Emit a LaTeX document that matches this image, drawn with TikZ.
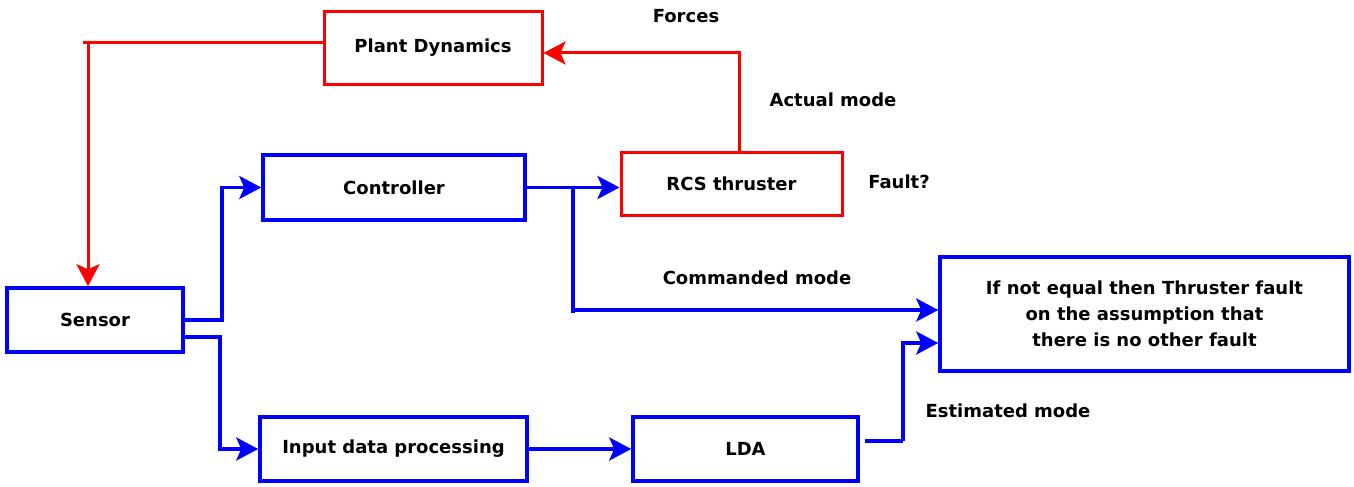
\documentclass[tikz,border=0pt]{standalone}
\usepackage{fontspec}
\setmainfont{DejaVu Sans}
\usetikzlibrary{arrows.meta}
\definecolor{bblue}{RGB}{0,0,255}
\definecolor{rred}{RGB}{255,0,0}
\begin{document}
\begin{tikzpicture}[x=1pt,y=-1pt,
  every node/.style={font=\fontsize{18}{26}\selectfont\bfseries, inner sep=0pt},
  bluebox/.style={draw=bblue, line width=3.5pt, align=center},
  redbox/.style={draw=rred, line width=3pt, align=center},
  bline/.style={draw=bblue, line width=3.5pt},
  rline/.style={draw=rred, line width=3pt},
  barrow/.style={bline, -{Stealth[length=22pt,width=23pt,inset=5pt]}},
  rarrow/.style={rline, -{Stealth[length=22pt,width=23pt,inset=5pt]}},
  lbl/.style={}
]
\useasboundingbox (0,0) rectangle (1354,487);
% boxes
\node[redbox, minimum width=218pt, minimum height=72pt] (plant) at (433,48) {Plant Dynamics};
\node[redbox, minimum width=221pt, minimum height=63pt] (rcs) at (731.5,184) {RCS thruster};
\node[bluebox, minimum width=262pt, minimum height=65pt] (ctrl) at (394,187.5) {Controller};
\node[bluebox, minimum width=176pt, minimum height=64pt] (sensor) at (95,320) {Sensor};
\node[bluebox, minimum width=267pt, minimum height=64pt] (inp) at (393.5,449) {Input data processing};
\node[bluebox, minimum width=225pt, minimum height=64pt] (lda) at (745.5,449) {LDA};
\node[bluebox, minimum width=409pt, minimum height=114pt] (dec) at (1144.5,314) {If not equal then Thruster fault\\on the assumption that\\there is no other fault};
% labels
\node[lbl] (lforces) at (686,16) {Forces};
\node[lbl] (lactual) at (833,100) {Actual mode};
\node[lbl] (lfault) at (899,182) {Fault?};
\node[lbl] (lcmd) at (757,278) {Commanded mode};
\node[lbl] (lest) at (1008,411) {Estimated mode};
% coordinates
\coordinate (rcorner) at (88,43);
\coordinate (rend) at (83,43);
\coordinate (br) at (573,188);
\coordinate (brend) at (573,313);
\coordinate (brh) at (573,310);
\coordinate (s1) at (222,320);
\coordinate (s2) at (220,337);
\coordinate (l1) at (865,441);
\coordinate (l2) at (903,441);
% red connectors
\draw[rline] ([yshift=5pt]plant.west) -- (rend);
\draw[rarrow] (rcorner) -- (rcorner |- sensor.north);
\draw[rarrow] ([xshift=7.5pt]rcs.north) |- ([yshift=-5pt]plant.east);
% blue connectors
\draw[barrow] (sensor.east) -- (s1) |- (ctrl.west);
\draw[barrow] ([yshift=-17pt]sensor.east) -- (s2) |- (inp.west);
\draw[barrow] (ctrl.east) -- (ctrl.east -| rcs.west);
\draw[bline] (br) -- (brend);
\draw[barrow] (brh) -- (brh -| dec.west);
\draw[barrow] (inp.east) -- (lda.west);
\draw[bline] (l1) -- (l2);
\draw[barrow] (l2) |- ([yshift=-29pt]dec.west);
\end{tikzpicture}
\end{document}
